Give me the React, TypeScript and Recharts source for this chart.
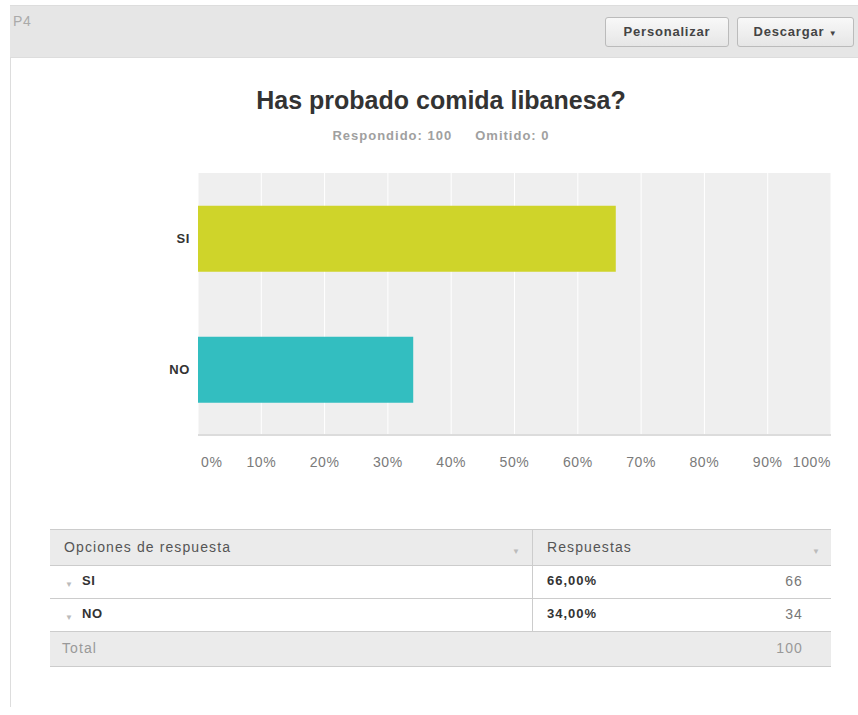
import React from 'react';
import { BarChart, Bar, XAxis, YAxis, CartesianGrid, Cell } from 'recharts';

const categories = ['SI', 'NO'];
const percentages = [66, 34];
const counts = [66, 34];
const barColors = ['#cfd42a', '#33bec0'];
const xTicks = [0, 10, 20, 30, 40, 50, 60, 70, 80, 90, 100];
const totalCount = 100;
const skipped = 0;

const chartData = categories.map((name, i) => ({ name, value: percentages[i] }));

const sans = "'Liberation Sans', Arial, sans-serif";

const XTick = (props: any) => {
  const { x, y, payload } = props;
  const v = payload.value;
  const anchor = v === 0 ? 'start' : v === 100 ? 'end' : 'middle';
  const dx = v === 0 ? 3 : 0;
  return (
    <text x={x + dx} y={y} dy={24} textAnchor={anchor} fill="#7a7a7a" fontSize={14} letterSpacing={0.6} fontFamily={sans}>
      {v}%
    </text>
  );
};

const YTick = (props: any) => {
  const { x, y, payload } = props;
  return (
    <text x={x} y={y} dy={4} textAnchor="end" fill="#333" fontSize={13} fontWeight="bold" fontFamily={sans}>
      {payload.value}
    </text>
  );
};

const Arrow = () => <span style={{ color: '#bbb', fontSize: 8, letterSpacing: 0 }}>▼</span>;

const App: React.FC = () => {
  const cell: React.CSSProperties = { position: 'absolute', whiteSpace: 'nowrap' };
  const btn: React.CSSProperties = {
    position: 'absolute', top: 17, height: 28, border: '1px solid #bbb', borderRadius: 3,
    background: 'linear-gradient(#f8f8f8, #e6e6e6)', fontSize: 13, fontWeight: 'bold', color: '#444',
    textAlign: 'center', lineHeight: '28px', letterSpacing: 0.8, boxSizing: 'content-box'
  };
  return (
    <div style={{ position: 'absolute', left: 0, top: 0, width: 858, height: 715, background: '#fff', overflow: 'hidden', fontFamily: sans, letterSpacing: 0.6 }}>
      {/* header bar */}
      <div style={{ position: 'absolute', left: 10, top: 5, width: 860, height: 51, background: '#e6e6e6', borderTop: '1px solid #ddd', borderBottom: '1px solid #ddd' }} />
      <div style={{ position: 'absolute', left: 10, top: 57, width: 1, height: 650, background: '#ddd' }} />
      <div style={{ ...cell, left: 13, top: 13, fontSize: 14, color: '#aaa' }}>P4</div>
      <div style={{ ...btn, left: 605, width: 122 }}>Personalizar</div>
      <div style={{ ...btn, left: 737, width: 115 }}>Descargar <span style={{ fontSize: 8 }}>▼</span></div>

      {/* title */}
      <div style={{ ...cell, left: 0, width: 882, top: 86, textAlign: 'center', fontWeight: 'bold', fontSize: 25, color: '#333', letterSpacing: 0 }}>
        Has probado comida libanesa?
      </div>
      <div style={{ ...cell, left: 0, width: 882, top: 128, textAlign: 'center', fontSize: 13, fontWeight: 'bold', color: '#a0a0a0', letterSpacing: 1 }}>
        Respondido: {totalCount}&nbsp;&nbsp;&nbsp;&nbsp; Omitido: {skipped}
      </div>

      {/* plot background */}
      <div style={{ position: 'absolute', left: 198, top: 173, width: 633, height: 262, background: '#efefef' }} />

      {/* chart */}
      <div style={{ position: 'absolute', left: 0, top: 160 }}>
        <BarChart width={858} height={320} data={chartData} layout="vertical" margin={{ top: 13, right: 27, left: 0, bottom: 0 }} barCategoryGap="25%">
          <CartesianGrid horizontal={false} stroke="#fff" />
          <XAxis type="number" domain={[0, 100]} ticks={xTicks} height={45} axisLine={{ stroke: '#dcdcdc', strokeWidth: 2 }} tickLine={false} tick={<XTick />} interval={0} />
          <YAxis type="category" dataKey="name" width={198} axisLine={false} tickLine={false} tick={<YTick />} />
          <Bar dataKey="value" fill={barColors[0]} isAnimationActive={false}>
            {chartData.map((d, i) => (
              <Cell key={d.name} fill={barColors[i]} />
            ))}
          </Bar>
        </BarChart>
      </div>

      {/* table */}
      <div style={{ position: 'absolute', left: 50, top: 529, width: 781, fontSize: 14, color: '#444', letterSpacing: 1.1 }}>
        <div style={{ position: 'relative', height: 35, background: '#ebebeb', borderTop: '1px solid #ccc', borderBottom: '1px solid #ccc' }}>
          <div style={{ ...cell, left: 14, top: 9, color: '#555' }}>Opciones de respuesta</div>
          <div style={{ ...cell, left: 462, top: 11 }}><Arrow /></div>
          <div style={{ position: 'absolute', left: 482, top: 0, width: 1, height: 35, background: '#ccc' }} />
          <div style={{ ...cell, left: 497, top: 9, color: '#555' }}>Respuestas</div>
          <div style={{ ...cell, left: 762, top: 11 }}><Arrow /></div>
        </div>
        {categories.map((c, i) => (
          <div key={c} style={{ position: 'relative', height: 32, borderBottom: '1px solid #ccc' }}>
            <div style={{ ...cell, left: 15, top: 8 }}><Arrow /></div>
            <div style={{ ...cell, left: 32, top: 7, fontWeight: 'bold', color: '#333', fontSize: 13, letterSpacing: 0.6 }}>{c}</div>
            <div style={{ position: 'absolute', left: 482, top: 0, width: 1, height: 32, background: '#ccc' }} />
            <div style={{ ...cell, left: 497, top: 7, fontWeight: 'bold', color: '#333', fontSize: 13, letterSpacing: 1 }}>{percentages[i].toFixed(2).replace('.', ',')}%</div>
            <div style={{ ...cell, right: 28, top: 7, color: '#777' }}>{counts[i]}</div>
          </div>
        ))}
        <div style={{ position: 'relative', height: 34, background: '#ebebeb', borderBottom: '1px solid #ccc' }}>
          <div style={{ ...cell, left: 12, top: 8, color: '#999' }}>Total</div>
          <div style={{ ...cell, right: 28, top: 8, color: '#999' }}>{totalCount}</div>
        </div>
      </div>
    </div>
  );
};

export default App;
